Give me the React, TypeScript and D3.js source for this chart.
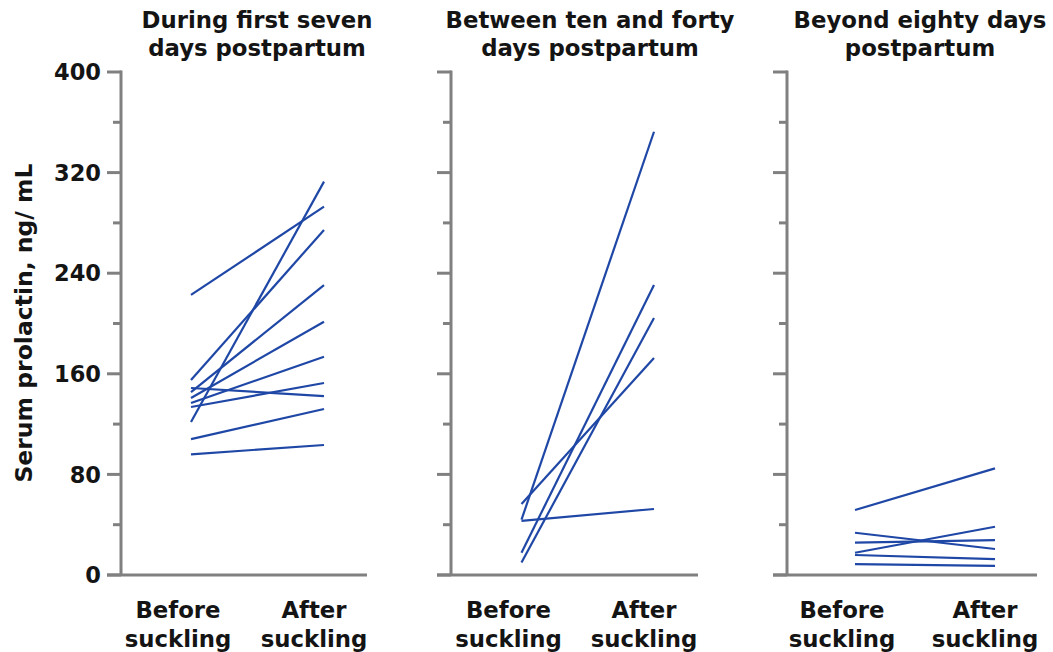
import React from "react";
import * as d3 from "d3";

const panelTitles: string[][] = [
  ["During first seven", "days postpartum"],
  ["Between ten and forty", "days postpartum"],
  ["Beyond eighty days", "postpartum"],
];
const xCategories: string[][] = [
  ["Before", "suckling"],
  ["After", "suckling"],
];
const yTicks = [0, 80, 160, 240, 320, 400];
const yMinorTicks = [40, 120, 200, 280, 360];

const firstWeekBefore = [222.7, 121.7, 155, 148.7, 145.5, 140.8, 136.8, 133.6, 108, 96];
const firstWeekAfter = [292.9, 312.8, 274.4, 142.3, 230.6, 201.4, 173.6, 152.7, 132, 103.4];
const tenFortyBefore = [44, 56.5, 43, 17.7, 10];
const tenFortyAfter = [352.5, 172.6, 52.5, 230.6, 204.4];
const eightyBefore = [51.7, 33.6, 17.7, 25.7, 15.9, 8.7];
const eightyAfter = [84.8, 20.7, 38.4, 27.8, 12.7, 7.2];

const panelsData = [
  { before: firstWeekBefore, after: firstWeekAfter },
  { before: tenFortyBefore, after: tenFortyAfter },
  { before: eightyBefore, after: eightyAfter },
];

// layout
const W = 1053;
const H = 652;
const axisXs = [121, 451, 787];
const beforeXs = [191, 521.5, 855];
const afterXs = [324, 654, 995];
const xAxisEnds = [367, 698, 1037];
const titleCenters = [257, 590, 920];
const FONT = "'DejaVu Sans', Verdana, sans-serif";
const AXIS_COLOR = "#808080";
const LINE_COLOR = "#1f47a6";
const TEXT_COLOR = "#141414";

export default function App() {
  const y = d3.scaleLinear().domain([0, 400]).range([575, 72]);
  return (
    <svg
      width={W}
      height={H}
      style={{ position: "absolute", left: 0, top: 0, background: "#fff" }}
      fontFamily={FONT}
      fontWeight="bold"
    >
      <text
        transform={`translate(24,323) rotate(-90)`}
        textAnchor="middle"
        dominantBaseline="central"
        fontSize={23.5}
        fill={TEXT_COLOR}
      >
        Serum prolactin, ng/ mL
      </text>
      {yTicks.map((t) => (
        <text
          key={"yl" + t}
          x={101}
          y={y(t)}
          dy="0.36em"
          textAnchor="end"
          fontSize={22.5}
          fill={TEXT_COLOR}
        >
          {t}
        </text>
      ))}
      {panelsData.map((p, i) => {
        const ax = axisXs[i];
        const x = d3.scaleLinear().domain([0, 1]).range([beforeXs[i], afterXs[i]]);
        const line = d3
          .line<[number, number]>()
          .x((d) => x(d[0]))
          .y((d) => y(d[1]));
        return (
          <g key={"p" + i}>
            {panelTitles[i].map((s, k) => (
              <text
                key={"t" + k}
                x={titleCenters[i]}
                y={28 + k * 28}
                textAnchor="middle"
                fontSize={22.8}
                fill={TEXT_COLOR}
              >
                {s}
              </text>
            ))}
            <line x1={ax} x2={ax} y1={y(400) - 1.5} y2={y(0)} stroke={AXIS_COLOR} strokeWidth={3} />
            <line x1={ax - 14} x2={xAxisEnds[i]} y1={y(0)} y2={y(0)} stroke={AXIS_COLOR} strokeWidth={3} />
            {yTicks.map((t) => (
              <line key={"mt" + t} x1={ax - 14} x2={ax} y1={y(t)} y2={y(t)} stroke={AXIS_COLOR} strokeWidth={3} />
            ))}
            {yMinorTicks.map((t) => (
              <line key={"nt" + t} x1={ax - 8} x2={ax} y1={y(t)} y2={y(t)} stroke={AXIS_COLOR} strokeWidth={3} />
            ))}
            {p.before.map((b, k) => (
              <path
                key={"l" + k}
                d={line([[0, b], [1, p.after[k]]]) || ""}
                fill="none"
                stroke={LINE_COLOR}
                strokeWidth={2.2}
              />
            ))}
            {xCategories.map((c, k) => (
              <text
                key={"c" + k}
                x={x(k) - (k === 0 ? 13 : 10)}
                y={618}
                textAnchor="middle"
                fontSize={22.8}
                fill={TEXT_COLOR}
              >
                {c.map((s, j) => (
                  <tspan key={j} x={x(k) - (k === 0 ? 13 : 10)} dy={j === 0 ? 0 : 29}>
                    {s}
                  </tspan>
                ))}
              </text>
            ))}
          </g>
        );
      })}
    </svg>
  );
}
